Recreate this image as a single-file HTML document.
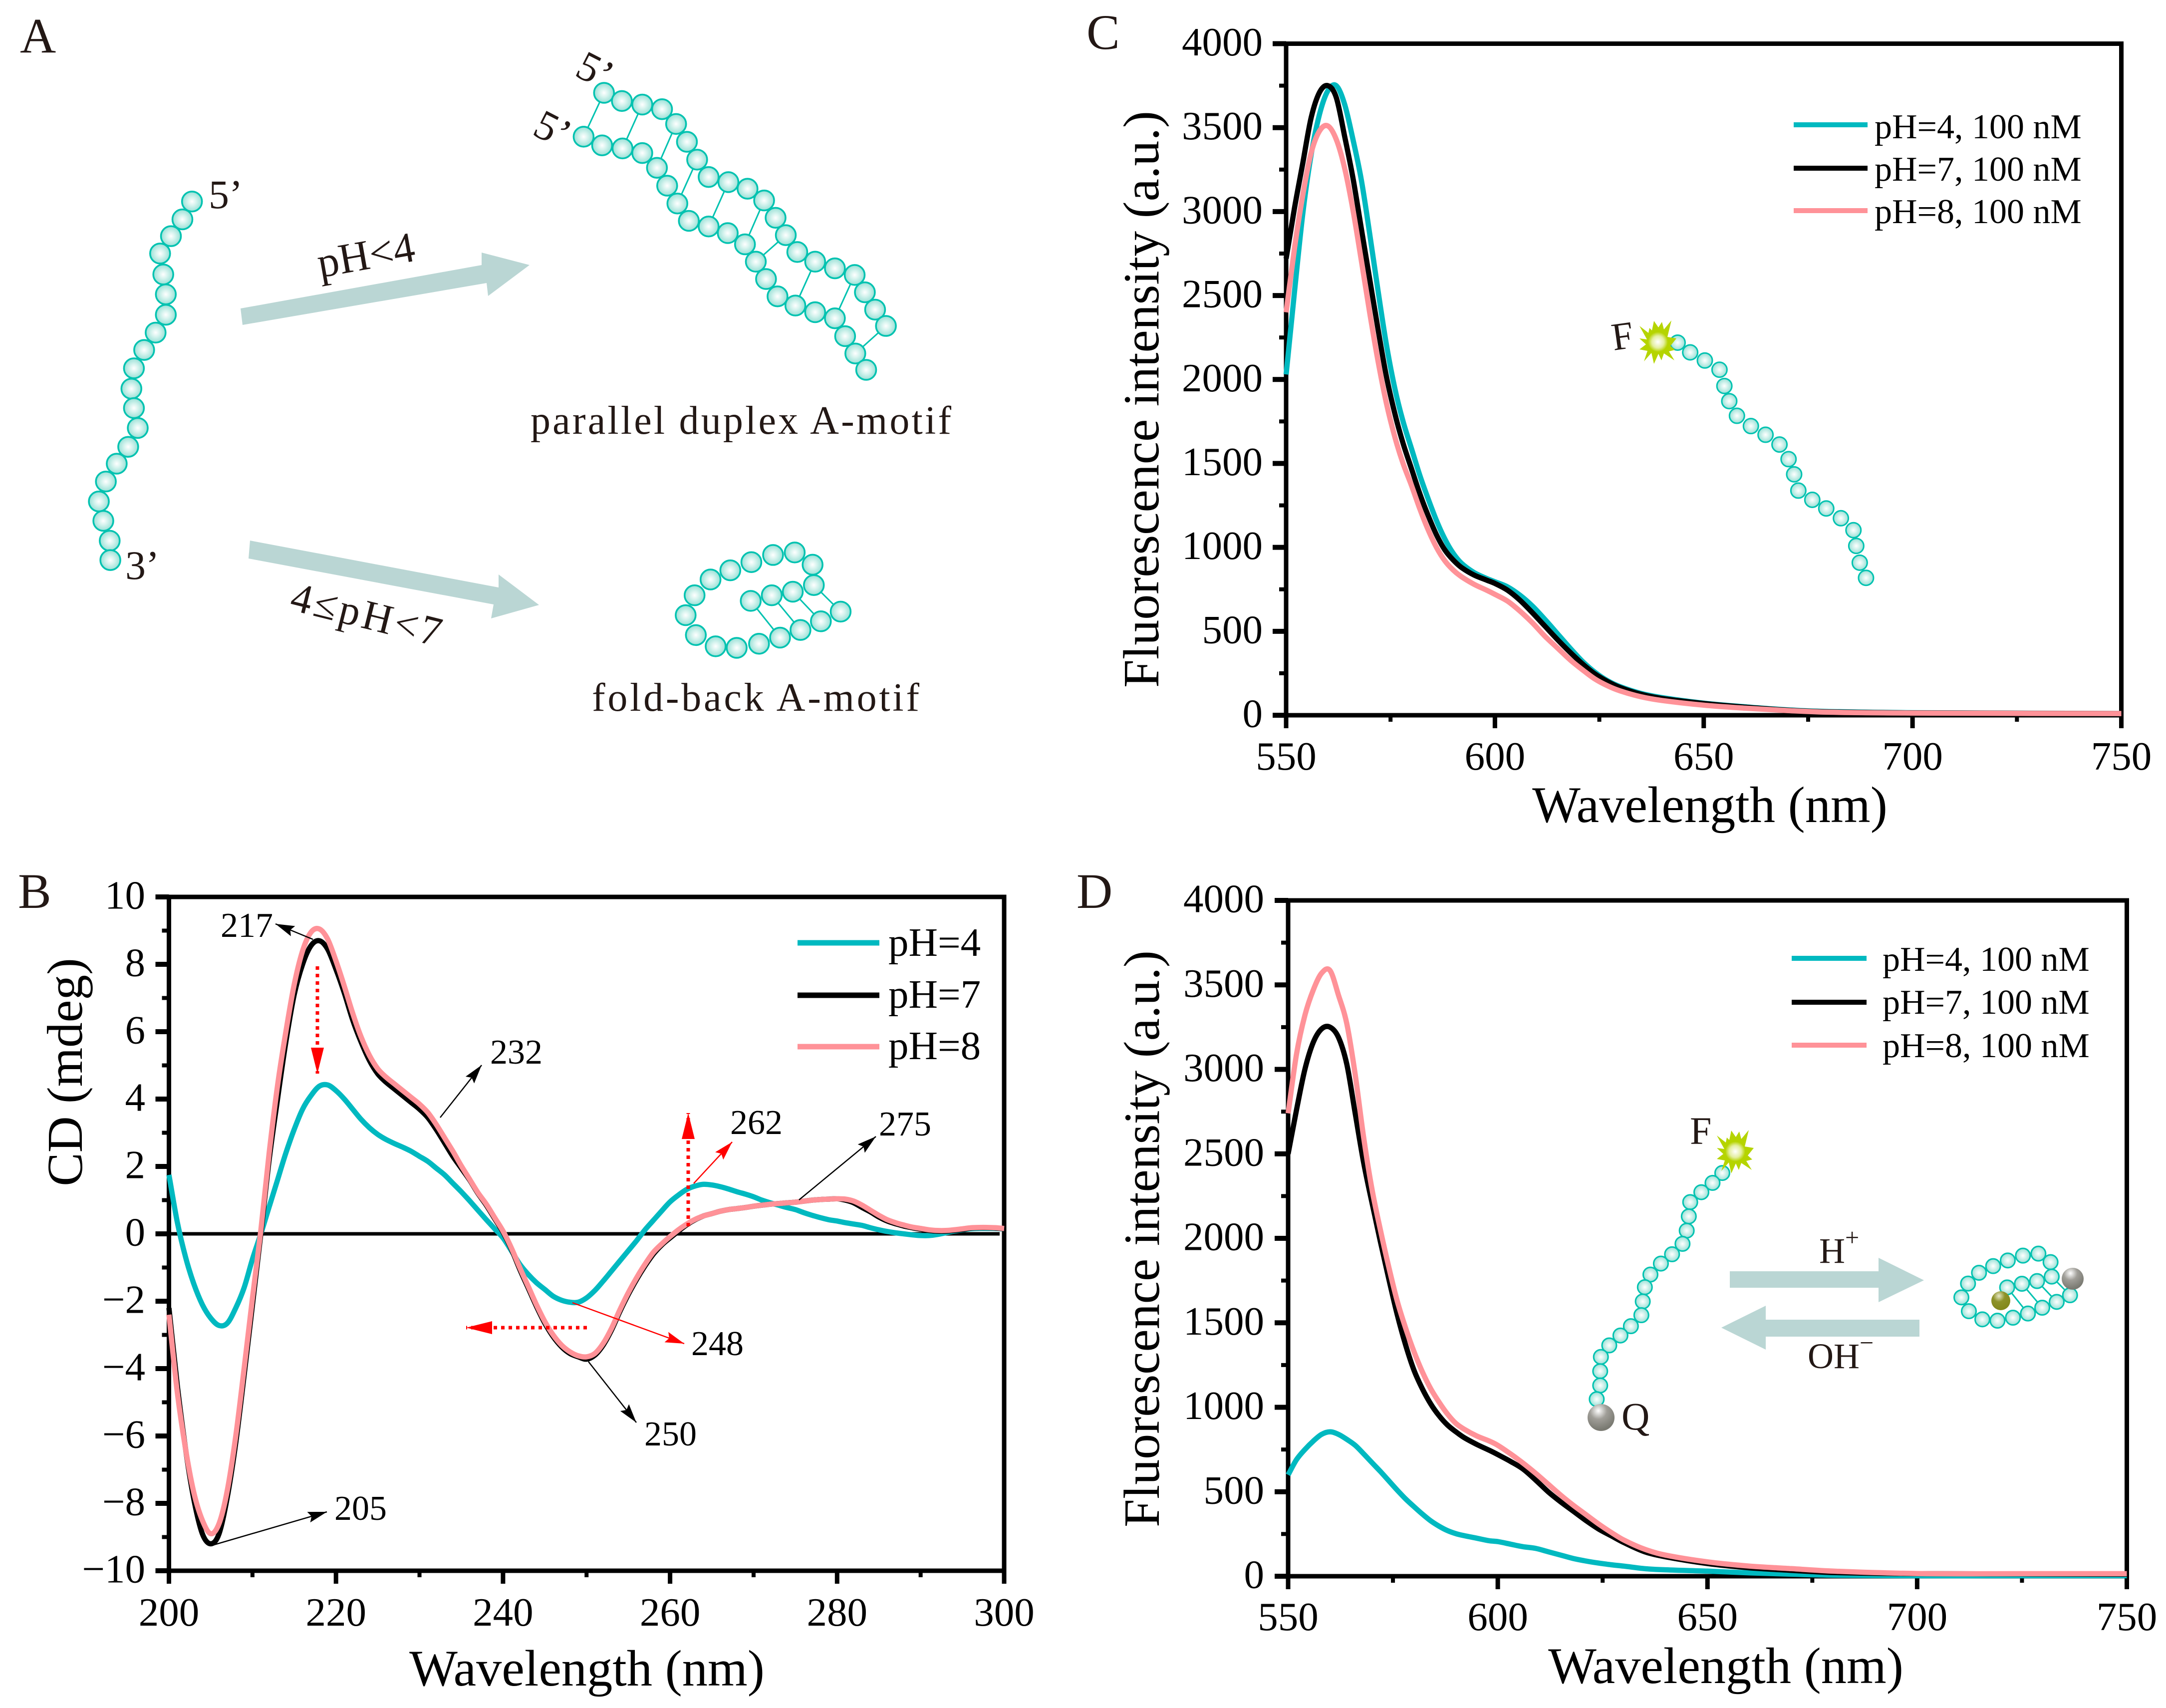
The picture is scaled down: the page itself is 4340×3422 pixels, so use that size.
<!DOCTYPE html>
<html lang="en">
<head>
<meta charset="utf-8">
<title>A-motif DNA pH response figure</title>
<style>
html,body{margin:0;padding:0;background:#fff;}
svg{display:block;}
text{font-family:"Liberation Serif",serif;}
.ink{fill:#231815;}
.ann{font-size:70px;fill:#000;}
.leg{font-size:70px;fill:#000;}
.legb{font-size:81px;fill:#000;}
.panel{font-size:100px;fill:#231815;}
.title{font-size:102.5px;fill:#000;}
</style>
</head>
<body>
<svg id="fig" xmlns="http://www.w3.org/2000/svg" width="4340" height="3422" viewBox="0 0 4340 3422">
<defs>
<radialGradient id="beadFill" cx="50%" cy="50%" r="50%"><stop offset="0" stop-color="#ffffff"/><stop offset="0.4" stop-color="#d8f4ef"/><stop offset="1" stop-color="#98e0d6"/></radialGradient>
<radialGradient id="grayBall" cx="40%" cy="25%" r="70%"><stop offset="0" stop-color="#ffffff"/><stop offset="0.45" stop-color="#a09e98"/><stop offset="1" stop-color="#7a7a72"/></radialGradient>
<radialGradient id="oliveBall" cx="40%" cy="25%" r="70%"><stop offset="0" stop-color="#e8e8c8"/><stop offset="0.45" stop-color="#8d9228"/><stop offset="1" stop-color="#83881c"/></radialGradient>
<radialGradient id="starBall"><stop offset="0" stop-color="#ffffff"/><stop offset="0.6" stop-color="#e4efa0"/><stop offset="1" stop-color="#b5d400"/></radialGradient>
<marker id="headK" markerUnits="userSpaceOnUse" markerWidth="40" markerHeight="24" refX="38" refY="11" orient="auto"><path d="M0 0L38 11L0 22L6 11z" fill="#000"/></marker>
<marker id="headR" markerUnits="userSpaceOnUse" markerWidth="40" markerHeight="24" refX="38" refY="11" orient="auto"><path d="M0 0L38 11L0 22L6 11z" fill="#f00"/></marker>
<marker id="headBig" markerUnits="userSpaceOnUse" markerWidth="54" markerHeight="28" refX="52" refY="13" orient="auto"><path d="M0 0L52 13L0 26z" fill="#f00"/></marker>
<g id="star"><polygon fill="#b5d400" points="-8,-42 1,-29 8,-40 12,-25 27,-43 19,-10 37,-7 25,8 34,16 22,19 33,37 12,23 7,37 1,24 -8,44 -13,22 -28,39 -21,18 -37,15 -24,5 -37,-7 -22,-5 -37,-32 -19,-18 -17,-28 -12,-23"/><circle r="20" fill="url(#starBall)"/></g>
</defs>

<!-- Panel letters -->
<text class="panel" x="40" y="105">A</text>
<text class="panel" x="36" y="1819">B</text>
<text class="panel" x="2177" y="98">C</text>
<text class="panel" x="2157" y="1819">D</text>

<!-- Panel A -->
<g>
<polygon fill="#bad6d4" points="482,618 965,531 965,506 1061,531 978,593 975,567 486,651"/>
<polygon fill="#bad6d4" points="501,1083 999,1177 999,1151 1080,1212 984,1239 989,1211 498,1119"/>
<text class="ink" font-size="86" text-anchor="end" transform="translate(835 522) rotate(-10)">pH&lt;4</text>
<text class="ink" font-size="84" transform="translate(578 1221) rotate(14)" textLength="308">4≤pH&lt;7</text>
<text class="ink" font-size="80" x="1063" y="869" textLength="843">parallel duplex A-motif</text>
<text class="ink" font-size="80" x="1186" y="1424" textLength="656">fold-back A-motif</text>
<text class="ink" font-size="82" x="418" y="417">5’</text>
<text class="ink" font-size="82" x="251" y="1160">3’</text>
<text class="ink" font-size="84" text-anchor="middle" transform="translate(1180 166) rotate(27)">5’</text>
<text class="ink" font-size="84" text-anchor="middle" transform="translate(1095 284) rotate(27)">5’</text>
</g>

<!-- Inset labels -->
<text class="ink" font-size="78" transform="translate(3233 702) rotate(-8)">F</text>
<text class="ink" font-size="78" x="3386" y="2292">F</text>
<text class="ink" font-size="78" x="3249" y="2864">Q</text>
<polygon fill="#bad6d4" points="3466,2547 3764,2547 3764,2520 3855,2565 3764,2609 3764,2580 3466,2580"/>
<polygon fill="#bad6d4" points="3846,2644 3538,2644 3538,2616 3449,2660 3538,2704 3538,2678 3846,2678"/>
<text class="ink" font-size="72" x="3645" y="2530">H<tspan font-size="50" dy="-34">+</tspan></text>
<text class="ink" font-size="72" x="3622" y="2741">OH<tspan font-size="50" dy="-34">−</tspan></text>

<g id="plots"></g>
<g id="diagram"></g>

<!-- Panel B annotations -->
<g>
<line x1="627" y1="1882" x2="552" y2="1851" stroke="#000" stroke-width="2.5" marker-end="url(#headK)"/>
<line x1="882" y1="2239" x2="965" y2="2134" stroke="#000" stroke-width="2.5" marker-end="url(#headK)"/>
<line x1="1601" y1="2404" x2="1755" y2="2277" stroke="#000" stroke-width="2.5" marker-end="url(#headK)"/>
<line x1="1179" y1="2728" x2="1275" y2="2850" stroke="#000" stroke-width="2.5" marker-end="url(#headK)"/>
<line x1="422" y1="3097" x2="655" y2="3029" stroke="#000" stroke-width="2.5" marker-end="url(#headK)"/>
<line x1="1390" y1="2371" x2="1467" y2="2288" stroke="#f00" stroke-width="2.5" marker-end="url(#headR)"/>
<line x1="1147" y1="2610" x2="1371" y2="2692" stroke="#f00" stroke-width="2.5" marker-end="url(#headR)"/>
<line x1="636" y1="1936" x2="636" y2="2151" stroke="#f00" stroke-width="7" stroke-dasharray="7 8" marker-end="url(#headBig)"/>
<line x1="1379" y1="2457" x2="1379" y2="2230" stroke="#f00" stroke-width="7" stroke-dasharray="7 8" marker-end="url(#headBig)"/>
<line x1="1176" y1="2660" x2="934" y2="2660" stroke="#f00" stroke-width="7" stroke-dasharray="7 8" marker-end="url(#headBig)"/>
<text class="ann" x="442" y="1877">217</text>
<text class="ann" x="982" y="2131">232</text>
<text class="ann" x="1463" y="2272">262</text>
<text class="ann" x="1761" y="2275">275</text>
<text class="ann" x="1385" y="2715">248</text>
<text class="ann" x="1291" y="2896">250</text>
<text class="ann" x="670" y="3045">205</text>
</g>

<!-- Legends -->
<g>
<line x1="1598" x2="1762" y1="1889" y2="1889" stroke="#00b9c0" stroke-width="11"/>
<line x1="1598" x2="1762" y1="1994" y2="1994" stroke="#000" stroke-width="11"/>
<line x1="1598" x2="1762" y1="2097" y2="2097" stroke="#ff9298" stroke-width="11"/>
<text class="legb" x="1780" y="1915">pH=4</text>
<text class="legb" x="1780" y="2019">pH=7</text>
<text class="legb" x="1780" y="2122">pH=8</text>
</g>
<g>
<line x1="3594" x2="3742" y1="250" y2="250" stroke="#00b9c0" stroke-width="10"/>
<line x1="3594" x2="3742" y1="337" y2="337" stroke="#000" stroke-width="10"/>
<line x1="3594" x2="3742" y1="422" y2="422" stroke="#ff9298" stroke-width="10"/>
<text class="leg" x="3756" y="277">pH=4, 100 nM</text>
<text class="leg" x="3756" y="362">pH=7, 100 nM</text>
<text class="leg" x="3756" y="447">pH=8, 100 nM</text>
</g>
<g>
<line x1="3590" x2="3740" y1="1920" y2="1920" stroke="#00b9c0" stroke-width="10"/>
<line x1="3590" x2="3740" y1="2008" y2="2008" stroke="#000" stroke-width="10"/>
<line x1="3590" x2="3740" y1="2094" y2="2094" stroke="#ff9298" stroke-width="10"/>
<text class="leg" x="3772" y="1945">pH=4, 100 nM</text>
<text class="leg" x="3772" y="2031">pH=7, 100 nM</text>
<text class="leg" x="3772" y="2118">pH=8, 100 nM</text>
</g>

<!-- Axis titles -->
<text class="title" text-anchor="middle" style="font-size:101px" transform="translate(164 2148) rotate(-90)">CD (mdeg)</text>
<text class="title" text-anchor="middle" x="1176" y="3377">Wavelength (nm)</text>
<text class="title" text-anchor="middle" transform="translate(2321 800) rotate(-90)" style="font-size:102px">Fluorescence intensity (a.u.)</text>
<text class="title" text-anchor="middle" x="3426" y="1647">Wavelength (nm)</text>
<text class="title" text-anchor="middle" transform="translate(2322 2482) rotate(-90)" style="font-size:102px">Fluorescence intensity (a.u.)</text>
<text class="title" text-anchor="middle" x="3458" y="3372">Wavelength (nm)</text>
</svg>

<script>
// ---- Panel B data: CD spectra ----
const cdWavelengths = [200,201,202,203,204,205,206,207,208,209,210,211,212,213,214,215,216,217,218,219,220,221,222,223,224,225,226,227,228,229,230,231,232,233,234,235,236,237,238,239,240,241,242,243,244,245,246,247,248,249,250,251,252,253,254,255,256,257,258,259,260,261,262,263,264,265,266,267,268,269,270,271,272,273,274,275,276,277,278,279,280,281,282,283,284,285,286,287,288,289,290,291,292,293,294,295,296,297,298,299,300];
const cdPH4 = [1.75,0.35,-0.7,-1.5,-2.1,-2.5,-2.72,-2.65,-2.2,-1.6,-0.75,0,0.8,1.6,2.4,3.1,3.7,4.1,4.38,4.42,4.25,4.0,3.7,3.4,3.15,2.95,2.8,2.68,2.57,2.45,2.3,2.15,1.95,1.75,1.5,1.25,0.98,0.7,0.42,0.15,-0.12,-0.5,-0.9,-1.2,-1.45,-1.65,-1.85,-1.97,-2.03,-2.03,-1.9,-1.68,-1.4,-1.1,-0.8,-0.5,-0.2,0.12,0.4,0.68,0.95,1.15,1.32,1.42,1.47,1.45,1.4,1.33,1.25,1.18,1.1,1.0,0.92,0.85,0.78,0.72,0.63,0.55,0.48,0.42,0.38,0.33,0.29,0.25,0.18,0.12,0.07,0.03,0,-0.03,-0.05,-0.05,-0.02,0.03,0.08,0.12,0.15,0.16,0.16,0.16,0.15];
const cdPH7 = [-2.2,-4.5,-6.4,-7.9,-8.9,-9.2,-8.9,-7.8,-6.2,-4.2,-2.1,0,2.2,4.0,5.7,7.1,8.0,8.55,8.7,8.45,7.85,7.15,6.35,5.7,5.15,4.75,4.5,4.3,4.1,3.9,3.7,3.45,3.1,2.7,2.3,1.95,1.6,1.2,0.85,0.45,0.05,-0.45,-1.05,-1.6,-2.15,-2.65,-3.05,-3.35,-3.55,-3.65,-3.72,-3.6,-3.3,-2.85,-2.3,-1.8,-1.35,-0.95,-0.6,-0.33,-0.12,0.08,0.27,0.42,0.53,0.6,0.67,0.72,0.75,0.78,0.82,0.85,0.88,0.9,0.92,0.94,0.97,1.0,1.02,1.03,1.04,1.0,0.92,0.78,0.65,0.5,0.38,0.3,0.23,0.18,0.14,0.1,0.08,0.08,0.1,0.13,0.17,0.18,0.18,0.17,0.15];
const cdPH8 = [-2.4,-4.7,-6.4,-7.7,-8.5,-8.9,-8.6,-7.6,-6,-4,-1.9,0.1,2.4,4.4,6,7.4,8.4,8.95,9.05,8.75,8.1,7.35,6.55,5.85,5.3,4.9,4.65,4.45,4.25,4.05,3.85,3.6,3.25,2.85,2.45,2.02,1.62,1.22,0.88,0.48,0.08,-0.42,-1.0,-1.55,-2.1,-2.6,-3.0,-3.3,-3.5,-3.62,-3.65,-3.55,-3.25,-2.8,-2.25,-1.75,-1.3,-0.9,-0.55,-0.3,-0.08,0.12,0.29,0.43,0.53,0.6,0.67,0.72,0.75,0.78,0.82,0.85,0.88,0.9,0.92,0.94,0.97,1.0,1.02,1.03,1.04,1.03,0.97,0.85,0.7,0.55,0.42,0.33,0.26,0.2,0.16,0.12,0.1,0.1,0.12,0.15,0.18,0.19,0.19,0.18,0.16];
const cdXTicks = [200,220,240,260,280,300];
const cdXMinor = [210,230,250,270,290];
const cdYTicks = [-10,-8,-6,-4,-2,0,2,4,6,8,10];
const cdYMinor = [-9,-7,-5,-3,-1,1,3,5,7,9];

// ---- Panels C and D data: fluorescence spectra ----
const flWavelengths = [550,552,554,556,558,560,562,564,566,568,570,572,574,576,578,580,582,584,586,588,590,592,595,598,600,603,606,609,612,615,618,621,624,627,630,635,640,650,660,670,680,700,725,750];
const cPH4 = [2030,2520,2990,3340,3580,3720,3750,3640,3430,3190,2870,2530,2210,1950,1750,1590,1430,1290,1160,1050,965,905,850,815,795,765,715,650,570,485,400,320,255,205,170,130,105,72,50,32,22,15,12,10];
const cPH7 = [2720,3020,3290,3560,3710,3750,3680,3450,3200,2900,2600,2300,2020,1800,1620,1470,1320,1190,1075,985,925,880,835,805,785,745,685,610,530,450,375,305,245,200,165,125,100,70,48,30,20,14,12,10];
const cPH8 = [2400,2780,3100,3350,3480,3510,3430,3260,3010,2710,2400,2110,1860,1660,1500,1370,1230,1105,1000,920,865,825,780,745,720,680,620,550,470,400,330,270,215,175,145,110,88,60,42,28,18,13,11,10];
const dPH4 = [600,690,750,800,840,855,840,810,775,725,672,620,565,510,458,412,368,328,296,270,252,240,225,210,205,190,175,165,145,125,105,90,78,68,60,45,38,30,20,12,6,3,3,3];
const dPH7 = [2500,2760,3000,3160,3240,3250,3190,3030,2740,2450,2210,1980,1760,1550,1370,1220,1110,1020,950,895,855,820,780,745,720,680,635,570,500,440,385,330,280,240,200,145,115,75,50,35,22,15,14,12];
const dPH8 = [2740,3090,3320,3470,3570,3585,3440,3270,2970,2600,2290,2050,1830,1630,1470,1330,1210,1110,1030,960,905,870,830,800,775,725,670,610,545,480,420,365,310,260,215,160,125,85,60,45,30,16,15,15];
const flXTicks = [550,600,650,700,750];
const flXMinor = [575,625,675,725];
const flYTicks = [0,500,1000,1500,2000,2500,3000,3500,4000];
const flYMinor = [250,750,1250,1750,2250,2750,3250,3750];

const NS = 'http://www.w3.org/2000/svg';
const plots = document.getElementById('plots');
const diagram = document.getElementById('diagram');
const TEAL = '#00b9c0', BLACK = '#000000', PINK = '#ff9298';

function make(tag, parent) {
  const el = document.createElementNS(NS, tag);
  parent.appendChild(el);
  return el;
}
function linear(d0, d1, r0, r1) {
  return v => r0 + (v - d0) * (r1 - r0) / (d1 - d0);
}
function curvePath(xs, ys, sx, sy) {
  const p = xs.map((x, i) => [sx(x), sy(ys[i])]);
  let d = 'M' + p[0][0].toFixed(1) + ' ' + p[0][1].toFixed(1);
  for (let i = 0; i < p.length - 1; i++) {
    const a = p[Math.max(i - 1, 0)], b = p[i], c = p[i + 1], e = p[Math.min(i + 2, p.length - 1)];
    const dx = (c[0] - b[0]) / 3;
    const m1 = (c[1] - a[1]) / ((c[0] - a[0]) || 1);
    const m2 = (e[1] - b[1]) / ((e[0] - b[0]) || 1);
    d += 'C' + (b[0] + dx).toFixed(1) + ' ' + (b[1] + m1 * dx).toFixed(1) + ' ' + (c[0] - dx).toFixed(1) + ' ' + (c[1] - m2 * dx).toFixed(1) + ' ' + c[0].toFixed(1) + ' ' + c[1].toFixed(1);
  }
  return d;
}
function drawTick(g, x1, y1, x2, y2, width, name) {
  const t = make('line', g);
  t.setAttribute('x1', x1);
  t.setAttribute('y1', y1);
  t.setAttribute('x2', x2);
  t.setAttribute('y2', y2);
  t.setAttribute('stroke', '#000');
  t.setAttribute('stroke-width', width);
  
  
}
function drawLabel(g, x, y, anchor, str, name) {
  const t = make('text', g);
  t.setAttribute('x', x);
  t.setAttribute('y', y);
  t.setAttribute('text-anchor', anchor);
  t.setAttribute('font-size', 81);
  t.textContent = str;
  
  
}
function drawPanel(id, box, xDom, yDom, xTicks, xMinor, yTicks, yMinor, xs, seriesList, xBase, yRight, zeroEnd) {
  const g = make('g', plots);
  
  
  const sx = linear(xDom[0], xDom[1], box.x0, box.x1);
  const sy = linear(yDom[0], yDom[1], box.y0, box.y1);
  const frame = make('rect', g);
  frame.setAttribute('x', box.x0);
  frame.setAttribute('y', box.y1);
  frame.setAttribute('width', box.x1 - box.x0);
  frame.setAttribute('height', box.y0 - box.y1);
  frame.setAttribute('fill', 'none');
  frame.setAttribute('stroke', '#000');
  frame.setAttribute('stroke-width', 9);
  
  
  yTicks.forEach(v => {
    drawTick(g, box.x0 - 27, sy(v), box.x0, sy(v), 10, id + '-y-major-tick');
    drawLabel(g, yRight, sy(v) + 23.5, 'end', String(v).replace('-', '\u2212'), id + '-y-tick-label');
  });
  yMinor.forEach(v => drawTick(g, box.x0 - 14, sy(v), box.x0, sy(v), 8, id + '-y-minor-tick'));
  xTicks.forEach(v => {
    drawTick(g, sx(v), box.y0, sx(v), box.y0 + 26, 9, id + '-x-major-tick');
    drawLabel(g, sx(v), xBase, 'middle', String(v), id + '-x-tick-label');
  });
  xMinor.forEach(v => drawTick(g, sx(v), box.y0, sx(v), box.y0 + 13, 8, id + '-x-minor-tick'));
  if (zeroEnd) {
    drawTick(g, box.x0, sy(0), zeroEnd, sy(0), 7, id + '-zero-line');
  }
  seriesList.forEach(s => {
    const path = make('path', g);
    path.setAttribute('d', curvePath(xs, s.values, sx, sy));
    path.setAttribute('fill', 'none');
    path.setAttribute('stroke', s.color);
    path.setAttribute('stroke-width', 10.5);
    path.setAttribute('stroke-linejoin', 'round');
    
    
  });
}

drawPanel('panel-b', {x0:338.5, x1:2012, y0:3147, y1:1797}, [200,300], [-10,10], cdXTicks, cdXMinor, cdYTicks, cdYMinor, cdWavelengths,
  [{name:'ph4', color:TEAL, values:cdPH4}, {name:'ph7', color:BLACK, values:cdPH7}, {name:'ph8', color:PINK, values:cdPH8}], 3257, 291, 2003);
drawPanel('panel-c', {x0:2577, x1:4250.5, y0:1433, y1:87.5}, [550,750], [0,4000], flXTicks, flXMinor, flYTicks, flYMinor, flWavelengths,
  [{name:'ph4', color:TEAL, values:cPH4}, {name:'ph7', color:BLACK, values:cPH7}, {name:'ph8', color:PINK, values:cPH8}], 1542, 2530, 0);
drawPanel('panel-d', {x0:2581, x1:4261.5, y0:3158, y1:1804}, [550,750], [0,4000], flXTicks, flXMinor, flYTicks, flYMinor, flWavelengths,
  [{name:'ph4', color:TEAL, values:dPH4}, {name:'ph7', color:BLACK, values:dPH7}, {name:'ph8', color:PINK, values:dPH8}], 3266, 2533, 0);

// ---- Schematic DNA diagrams (illustration, not chart data) ----
function drawRung(a, b, w) {
  const l = make('line', diagram);
  l.setAttribute('x1', a[0]);
  l.setAttribute('y1', a[1]);
  l.setAttribute('x2', b[0]);
  l.setAttribute('y2', b[1]);
  l.setAttribute('stroke', '#00c2b0');
  l.setAttribute('stroke-width', w);
  
  
}
function drawBead(p, r, w) {
  const c = make('circle', diagram);
  c.setAttribute('cx', p[0]);
  c.setAttribute('cy', p[1]);
  c.setAttribute('r', r);
  c.setAttribute('fill', 'url(#beadFill)');
  c.setAttribute('stroke', '#00c2b0');
  c.setAttribute('stroke-width', w);
  
  
}
function ball(x, y, r, fill, name) {
  const c = make('circle', diagram);
  c.setAttribute('cx', x);
  c.setAttribute('cy', y);
  c.setAttribute('r', r);
  c.setAttribute('fill', fill);
  
  
}
function starAt(x, y) {
  const u = make('use', diagram);
  u.setAttribute('href', '#star');
  u.setAttribute('x', x);
  u.setAttribute('y', y);
  
  
}
const mapA = p => [p[0] * 1.278, p[1] * 1.022];
const mapC = p => [p[0] * 1.398 + 2150 - 2, p[1] * 1.086 - 1];
const mapD = p => [p[0] * 1.398 + 2150 - 2, p[1] * 1.1 + 1700];
const mapFold = p => [p[0] / 3 + 3850, p[1] / 3 + 2450];

const sketchStrandA = [[301,395],[286,430],[268,463],[251,497],[256,538],[260,577],[260,617],[244,652],[226,686],[210,722],[206,762],[210,800],[216,839],[201,876],[183,909],[166,944],[155,983],[162,1021],[172,1060],[173,1098]];
const sketchDuplexUpper = [[947,182],[975,198],[1007,205],[1038,214],[1060,243],[1077,278],[1093,313],[1111,347],[1142,357],[1172,370],[1198,393],[1216,427],[1232,461],[1250,494],[1278,513],[1309,526],[1340,539],[1356,573],[1372,607],[1389,639]];
const sketchDuplexLower = [[915,268],[944,285],[976,291],[1007,300],[1030,329],[1046,364],[1062,399],[1080,433],[1111,444],[1141,457],[1168,479],[1185,513],[1201,547],[1219,581],[1247,599],[1278,612],[1309,624],[1325,659],[1341,693],[1358,725]];
const sketchDuplexRungs = [[[947,182],[915,268]],[[1007,205],[976,291]],[[1060,243],[1030,329]],[[1093,313],[1062,399]],[[1142,357],[1111,444]],[[1198,393],[1168,479]],[[1232,461],[1185,513]],[[1278,513],[1247,599]],[[1340,539],[1309,624]],[[1389,639],[1341,693]]];
const sketchFoldA = [[1318,1199],[1287,1218],[1255,1235],[1223,1250],[1190,1262],[1155,1270],[1122,1267],[1091,1245],[1075,1206],[1089,1167],[1114,1136],[1145,1118],[1178,1102],[1212,1088],[1246,1083],[1274,1107],[1276,1147],[1243,1160],[1210,1167],[1177,1178]];
const sketchFoldARungs = [[[1276,1147],[1318,1199]],[[1243,1160],[1287,1218]],[[1210,1167],[1255,1235]],[[1177,1178],[1223,1250]]];
const sketchStrandC = [[868,633],[886,651],[907,666],[928,683],[935,713],[942,741],[953,768],[973,787],[994,803],[1014,821],[1027,848],[1035,876],[1041,906],[1061,923],[1081,939],[1102,957],[1120,979],[1124,1008],[1129,1039],[1138,1067]];
const sketchStrandD = [[932,591],[918,609],[902,626],[886,644],[884,670],[881,696],[875,720],[860,739],[844,756],[829,776],[821,799],[818,825],[816,850],[801,870],[786,887],[770,905],[758,926],[757,952],[757,978],[752,1003]];
const sketchFoldD = [[893,435],[813,475],[726,510],[640,545],[550,570],[457,588],[366,580],[285,531],[240,448],[280,365],[346,300],[431,260],[519,226],[610,197],[703,185],[776,236],[783,323],[695,350],[604,366],[515,388]];
const sketchFoldDRungs = [[[783,323],[893,435]],[[695,350],[813,475]],[[604,366],[726,510]],[[515,388],[640,545]]];

sketchDuplexRungs.forEach(r => drawRung(mapA(r[0]), mapA(r[1]), 3));
sketchFoldARungs.forEach(r => drawRung(mapA(r[0]), mapA(r[1]), 3));
sketchStrandA.concat(sketchDuplexUpper, sketchDuplexLower, sketchFoldA).forEach(p => drawBead(mapA(p), 20, 3.5));
sketchStrandC.forEach(p => drawBead(mapC(p), 15, 3));
starAt(3322, 685);
sketchStrandD.forEach(p => drawBead(mapD(p), 14.5, 3));
starAt(3477, 2307);
ball(3208, 2840, 27, 'url(#grayBall)', 'quencher-ball');
sketchFoldDRungs.forEach(r => drawRung(mapFold(r[0]), mapFold(r[1]), 3));
sketchFoldD.forEach(p => drawBead(mapFold(p), 14.5, 3));
ball(4009, 2606, 19, 'url(#oliveBall)', 'quenched-fluorophore-ball');
ball(4153, 2562, 22, 'url(#grayBall)', 'folded-quencher-ball');
</script>
</body>
</html>
